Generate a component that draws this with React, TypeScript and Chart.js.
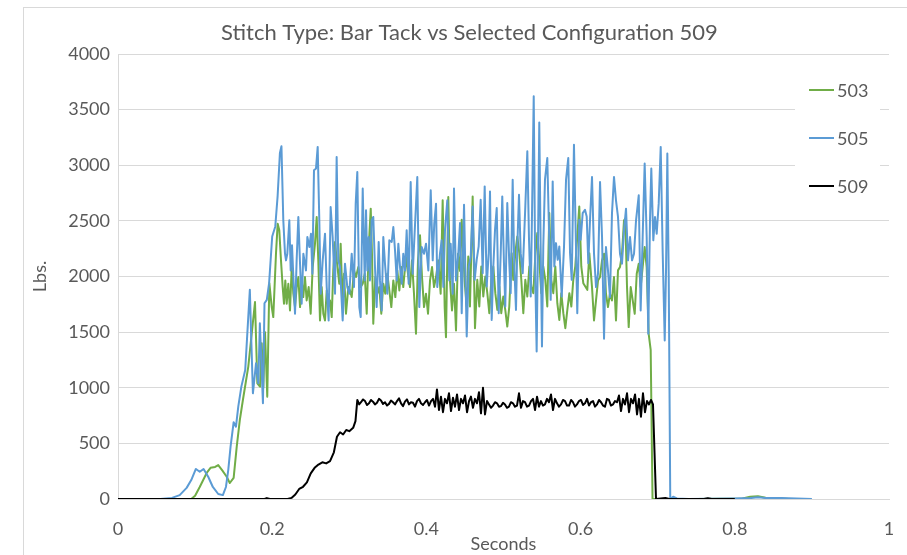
import React, { useEffect, useRef } from "react";
import { Chart, registerables } from "chart.js";

Chart.register(...registerables);

const chartTitle = "Stitch Type: Bar Tack vs Selected Configuration 509";
const xTitle = "Seconds";
const yTitle = "Lbs.";
const seriesNames = ["503", "505", "509"];
const seriesColors = ["#70ad47", "#5b9bd5", "#000000"];
const xTickValues = [0, 0.2, 0.4, 0.6, 0.8, 1];
const yTickValues = [0, 500, 1000, 1500, 2000, 2500, 3000, 3500, 4000];

// Series 503 (green): time in seconds, load in lbs
const t503 = [0, 0.095, 0.1, 0.106, 0.115, 0.12, 0.126, 0.13, 0.135, 0.141, 0.145, 0.15, 0.154, 0.158, 0.162, 0.169, 0.1777, 0.1807, 0.1842, 0.1864, 0.1885, 0.1907, 0.1936, 0.1963, 0.1994, 0.2014, 0.2049, 0.2071, 0.2092, 0.2114, 0.2136, 0.2153, 0.217, 0.2188, 0.2209, 0.2231, 0.2253, 0.2274, 0.2296, 0.2318, 0.2339, 0.2361, 0.2383, 0.2403, 0.2425, 0.2447, 0.2473, 0.2499, 0.2525, 0.2555, 0.2577, 0.2598, 0.262, 0.2642, 0.2663, 0.2685, 0.2707, 0.2728, 0.275, 0.2772, 0.2792, 0.2815, 0.2837, 0.287, 0.2888, 0.2914, 0.2931, 0.2957, 0.2987, 0.3009, 0.3031, 0.3061, 0.3087, 0.3117, 0.3148, 0.3174, 0.32, 0.3226, 0.3252, 0.3278, 0.3294, 0.3311, 0.3337, 0.3363, 0.3389, 0.3415, 0.3441, 0.3467, 0.3493, 0.3519, 0.3545, 0.3571, 0.3597, 0.3623, 0.3649, 0.3674, 0.37, 0.3735, 0.3761, 0.3787, 0.3813, 0.3839, 0.3865, 0.3891, 0.3917, 0.3943, 0.3969, 0.3995, 0.4021, 0.4047, 0.4073, 0.4099, 0.4125, 0.4154, 0.4185, 0.4211, 0.4237, 0.4254, 0.4284, 0.4306, 0.4332, 0.4358, 0.4384, 0.441, 0.4436, 0.4458, 0.4479, 0.4501, 0.4523, 0.4543, 0.4565, 0.46, 0.463, 0.466, 0.4686, 0.4712, 0.4738, 0.4764, 0.479, 0.4816, 0.4842, 0.4868, 0.4894, 0.492, 0.4946, 0.4971, 0.4997, 0.5023, 0.5049, 0.5075, 0.5106, 0.5127, 0.5153, 0.5179, 0.5205, 0.5231, 0.5257, 0.5283, 0.5309, 0.5335, 0.5361, 0.5387, 0.5412, 0.5438, 0.5464, 0.549, 0.5516, 0.5542, 0.5568, 0.5594, 0.562, 0.5646, 0.5672, 0.5698, 0.5724, 0.575, 0.5776, 0.5802, 0.5828, 0.5854, 0.588, 0.5905, 0.5931, 0.5957, 0.5983, 0.6009, 0.6035, 0.6061, 0.6087, 0.6113, 0.6148, 0.6174, 0.62, 0.6226, 0.6252, 0.6278, 0.6304, 0.6329, 0.6355, 0.6381, 0.6407, 0.6433, 0.6459, 0.6485, 0.6511, 0.6537, 0.6563, 0.658, 0.6602, 0.6624, 0.665, 0.6676, 0.6702, 0.6728, 0.6754, 0.6779, 0.6805, 0.6831, 0.6857, 0.6883, 0.6909, 0.6933, 0.75, 0.81, 0.82, 0.83, 0.84, 0.85, 0.87];
const v503 = [0, 0, 30, 108, 234, 280, 288, 305, 260, 200, 144, 190, 470, 710, 890, 1190, 1770, 1040, 1010, 1400, 1000, 1500, 920, 1940, 1725, 1635, 2205, 2475, 2415, 2145, 1905, 1755, 1965, 1755, 1935, 1695, 2085, 1845, 1725, 1905, 1995, 1725, 1965, 1815, 1995, 1785, 1905, 1665, 2085, 2295, 2535, 2145, 1605, 1905, 1665, 1605, 1875, 1725, 1785, 1635, 2055, 2310, 2145, 1935, 2295, 1725, 2025, 1665, 1905, 1875, 1815, 2055, 1995, 2085, 1905, 1935, 2025, 1665, 2265, 2610, 2205, 1575, 1995, 1845, 1905, 1665, 1935, 1845, 2025, 1875, 1725, 1965, 1815, 2055, 1875, 2085, 1905, 2175, 2025, 1905, 2145, 1845, 1485, 2145, 2370, 1995, 1725, 1845, 1665, 1965, 2085, 1905, 1995, 2145, 1845, 2685, 1725, 1455, 2715, 1965, 1695, 1935, 1515, 2205, 2050, 2510, 2180, 1910, 1730, 2180, 1730, 2720, 1535, 1970, 1730, 2090, 1820, 2000, 1850, 1670, 1970, 2090, 1850, 1700, 1910, 1670, 1820, 1700, 1550, 1730, 2210, 1970, 2210, 2360, 2210, 1970, 1670, 1970, 1820, 2090, 1910, 1850, 2180, 2390, 2150, 1850, 2090, 1970, 1730, 2570, 1970, 1850, 2090, 1760, 1610, 1850, 1670, 1535, 1700, 1850, 1730, 1970, 2090, 2360, 2630, 2090, 1940, 1910, 1880, 2210, 1905, 1605, 1785, 1965, 1995, 2145, 2205, 1845, 1725, 1845, 1785, 1995, 1605, 2055, 2085, 2205, 2505, 2520, 1905, 1545, 1905, 1785, 1665, 2025, 2115, 1905, 2085, 2265, 2085, 1485, 1340, 0, 0, 5, 20, 25, 12, 8, 0];

// Series 505 (blue)
const t505 = [0, 0.055, 0.07, 0.08, 0.089, 0.095, 0.101, 0.106, 0.111, 0.117, 0.123, 0.13, 0.136, 0.14, 0.143, 0.146, 0.15, 0.153, 0.156, 0.16, 0.165, 0.168, 0.171, 0.173, 0.175, 0.179, 0.182, 0.184, 0.188, 0.19, 0.193, 0.196, 0.2, 0.204, 0.207, 0.21, 0.212, 0.2144, 0.2166, 0.2179, 0.2196, 0.2222, 0.224, 0.2257, 0.2274, 0.2296, 0.2317, 0.2339, 0.2361, 0.2382, 0.2404, 0.2438, 0.2456, 0.2482, 0.2503, 0.2521, 0.2542, 0.2568, 0.259, 0.2611, 0.2629, 0.2655, 0.2685, 0.2707, 0.2732, 0.2758, 0.2784, 0.2815, 0.2836, 0.2857, 0.2879, 0.2914, 0.2944, 0.2974, 0.3, 0.3031, 0.3061, 0.3083, 0.3104, 0.313, 0.3148, 0.3174, 0.32, 0.3217, 0.3234, 0.3252, 0.3268, 0.329, 0.3311, 0.3333, 0.3355, 0.3381, 0.3398, 0.342, 0.3441, 0.3463, 0.3493, 0.3519, 0.355, 0.3571, 0.3593, 0.3615, 0.3636, 0.3658, 0.368, 0.37, 0.3722, 0.3744, 0.377, 0.3796, 0.3822, 0.3848, 0.3882, 0.3908, 0.3939, 0.3969, 0.3995, 0.4025, 0.4056, 0.4082, 0.4102, 0.4125, 0.4141, 0.4176, 0.4198, 0.422, 0.4241, 0.4271, 0.4297, 0.4315, 0.4341, 0.4358, 0.4384, 0.4414, 0.4436, 0.4458, 0.4488, 0.4523, 0.4549, 0.4575, 0.46, 0.4626, 0.4652, 0.4678, 0.4704, 0.473, 0.4756, 0.4782, 0.4808, 0.4825, 0.4847, 0.4868, 0.489, 0.4912, 0.4938, 0.4964, 0.4984, 0.5006, 0.5023, 0.5049, 0.5075, 0.5093, 0.5119, 0.514, 0.5162, 0.5179, 0.5201, 0.5223, 0.5249, 0.5266, 0.5283, 0.5309, 0.5331, 0.5353, 0.537, 0.5392, 0.5412, 0.543, 0.5447, 0.5464, 0.5482, 0.5499, 0.5516, 0.5538, 0.5568, 0.559, 0.5612, 0.5638, 0.5659, 0.5681, 0.5703, 0.5724, 0.5755, 0.5785, 0.5811, 0.584, 0.5863, 0.5885, 0.5914, 0.594, 0.5957, 0.5983, 0.6001, 0.6027, 0.6057, 0.6079, 0.61, 0.6122, 0.6148, 0.6174, 0.62, 0.6226, 0.6252, 0.6278, 0.6304, 0.6329, 0.6355, 0.6381, 0.6407, 0.6433, 0.6459, 0.6485, 0.6511, 0.6537, 0.6563, 0.6589, 0.6615, 0.6641, 0.6667, 0.6693, 0.6719, 0.6754, 0.6779, 0.6805, 0.6831, 0.6857, 0.6878, 0.69, 0.6917, 0.6943, 0.6965, 0.6987, 0.7013, 0.7039, 0.7065, 0.7091, 0.7108, 0.7125, 0.7143, 0.7163, 0.72, 0.725, 0.74, 0.8, 0.82, 0.83, 0.84, 0.86, 0.88, 0.9];
const v505 = [0, 0, 10, 35, 100, 170, 270, 245, 270, 200, 108, 45, 35, 108, 260, 470, 690, 650, 830, 1010, 1160, 1520, 1880, 1400, 950, 1220, 1040, 1580, 860, 1760, 1790, 1940, 2360, 2450, 2720, 3110, 3170, 2505, 2205, 2145, 2205, 2505, 2055, 2280, 2000, 1665, 2145, 2535, 2115, 1755, 2205, 2055, 2355, 2265, 2385, 2025, 2955, 2970, 3165, 2505, 1845, 2145, 2385, 1905, 1605, 2625, 2355, 1845, 3075, 2145, 2085, 1605, 2115, 1905, 1845, 2205, 1905, 2655, 2940, 1725, 1635, 2790, 1965, 2595, 2055, 2355, 1965, 2505, 2535, 2085, 1725, 2310, 1965, 1695, 2355, 2115, 1845, 2325, 2310, 2445, 2235, 1965, 2295, 2085, 1935, 2205, 2055, 2415, 1935, 2850, 2025, 2400, 2895, 1725, 2265, 2205, 2295, 2055, 2775, 2145, 2475, 2655, 1905, 2205, 2325, 1905, 2415, 2685, 1965, 2295, 1845, 2790, 1965, 2205, 2480, 1670, 2645, 1460, 2090, 2180, 2630, 1970, 2150, 2270, 2690, 2030, 2810, 1910, 2210, 2765, 1610, 2090, 2420, 2615, 1670, 2210, 2720, 2120, 1730, 2660, 2120, 1850, 2870, 2090, 1700, 2270, 2735, 2210, 2030, 2330, 2630, 3125, 2330, 1820, 2570, 3620, 2000, 1325, 2270, 3385, 2270, 1370, 2270, 2870, 3065, 2420, 1790, 2855, 2090, 2300, 2150, 2270, 1820, 2270, 2870, 3065, 2210, 1970, 3185, 2270, 1670, 2510, 2330, 2570, 2600, 2540, 2120, 2505, 2895, 2205, 1905, 2025, 2850, 2355, 1440, 2265, 2055, 1815, 2565, 2895, 2685, 2535, 2205, 2115, 2415, 2610, 2145, 2355, 2145, 2205, 2505, 2730, 1695, 2355, 3015, 2355, 1485, 2505, 2970, 2325, 2535, 2385, 2655, 3165, 2205, 1425, 2055, 3105, 2000, 0, 20, 5, 0, 4, 8, 15, 10, 8, 4, 0];

// Series 509 (black)
const t509 = [0, 0.19, 0.193, 0.197, 0.22, 0.225, 0.23, 0.235, 0.24, 0.245, 0.25, 0.255, 0.26, 0.265, 0.27, 0.275, 0.28, 0.284, 0.288, 0.292, 0.296, 0.3, 0.305, 0.308, 0.3104, 0.3128, 0.3152, 0.3178, 0.3204, 0.323, 0.3256, 0.3281, 0.3307, 0.3333, 0.3359, 0.3385, 0.3411, 0.3437, 0.3463, 0.3489, 0.3515, 0.3541, 0.3567, 0.3593, 0.3619, 0.3645, 0.3671, 0.3697, 0.3722, 0.3748, 0.3774, 0.38, 0.3826, 0.3852, 0.3878, 0.3904, 0.393, 0.3956, 0.3982, 0.4008, 0.4034, 0.406, 0.4086, 0.4112, 0.4137, 0.4163, 0.4189, 0.4215, 0.4241, 0.4267, 0.4293, 0.4319, 0.4345, 0.4371, 0.4397, 0.4423, 0.4449, 0.4475, 0.4501, 0.4527, 0.4553, 0.4578, 0.4604, 0.463, 0.4656, 0.4682, 0.4708, 0.4734, 0.476, 0.4786, 0.4812, 0.4838, 0.4864, 0.489, 0.4916, 0.4942, 0.4968, 0.4994, 0.5019, 0.5045, 0.5071, 0.5097, 0.5123, 0.5149, 0.5175, 0.5201, 0.5227, 0.5253, 0.5279, 0.5305, 0.5331, 0.5357, 0.5383, 0.5409, 0.5435, 0.546, 0.5486, 0.5512, 0.5538, 0.5564, 0.559, 0.5616, 0.5642, 0.5668, 0.5694, 0.572, 0.5746, 0.5772, 0.5798, 0.5824, 0.585, 0.5876, 0.5901, 0.5927, 0.5953, 0.5979, 0.6005, 0.6031, 0.6057, 0.6083, 0.6109, 0.6135, 0.6161, 0.6187, 0.6213, 0.6239, 0.6265, 0.6291, 0.6316, 0.6342, 0.6368, 0.6394, 0.642, 0.6446, 0.6472, 0.6498, 0.6524, 0.655, 0.6576, 0.6602, 0.6628, 0.6654, 0.668, 0.6706, 0.6732, 0.6757, 0.6783, 0.6809, 0.6835, 0.6861, 0.6887, 0.6913, 0.6939, 0.6978, 0.71, 0.715, 0.76, 0.765, 0.77, 0.8];
const v509 = [0, 0, 8, 0, 0, 10, 40, 90, 110, 150, 230, 280, 310, 330, 320, 340, 420, 560, 600, 580, 620, 610, 640, 700, 890, 850, 870, 895, 880, 845, 860, 890, 875, 850, 865, 900, 885, 855, 870, 840, 855, 885, 870, 850, 880, 905, 860, 835, 875, 895, 850, 870, 865, 830, 880, 900, 860, 845, 870, 890, 840, 880, 900, 830, 985, 800, 920, 780, 900, 860, 950, 790, 910, 830, 940, 800, 900, 860, 930, 780, 880, 920, 820, 900, 860, 960, 770, 1000, 760, 880, 850, 820, 840, 870, 860, 830, 835, 865, 850, 820, 830, 870, 860, 830, 840, 950, 820, 880, 870, 830, 840, 880, 900, 800, 920, 830, 880, 840, 850, 900, 870, 940, 800, 900, 860, 830, 850, 890, 880, 840, 840, 890, 870, 830, 850, 880, 890, 845, 860, 900, 840, 870, 880, 830, 850, 890, 870, 840, 830, 900, 890, 840, 850, 880, 870, 930, 790, 900, 850, 950, 780, 900, 860, 940, 760, 900, 740, 950, 780, 880, 850, 890, 850, 0, 10, 0, 0, 6, 0, 0];

const seriesTimes = [t503, t505, t509];
const seriesValues = [v503, v505, v509];

const TEXT_COLOR = "#595959";
const GRID_COLOR = "#d9d9d9";
const FONT = "Lato";

const overlayPlugin = {
  id: "overlay",
  beforeDatasetsDraw(chart: any) {
    const ctx = chart.ctx;
    const a = chart.chartArea;
    ctx.save();
    ctx.fillStyle = "#ffffff";
    ctx.fillRect(a.right - 94, a.top + 11, 85, 145);
    ctx.restore();
  },
  afterDraw(chart: any) {
    const ctx = chart.ctx;
    const a = chart.chartArea;
    ctx.save();
    ctx.fillStyle = TEXT_COLOR;
    ctx.font = `22px ${FONT}`;
    ctx.textAlign = "center";
    ctx.textBaseline = "middle";
    ctx.fillText(chartTitle, 469.5, 33);
    ctx.font = `18px ${FONT}`;
    ctx.textAlign = "left";
    chart.data.datasets.forEach((ds: any, i: number) => {
      const y = a.top + 36 + i * 48;
      ctx.strokeStyle = ds.borderColor;
      ctx.lineWidth = 2;
      ctx.beginPath();
      ctx.moveTo(a.right - 80, y);
      ctx.lineTo(a.right - 55, y);
      ctx.stroke();
      ctx.fillStyle = TEXT_COLOR;
      ctx.fillText(ds.label, a.right - 52, y + 1);
    });
    ctx.restore();
  },
};

export default function App() {
  const canvasRef = useRef<HTMLCanvasElement | null>(null);

  useEffect(() => {
    const canvas = canvasRef.current;
    if (!canvas) return;
    const datasets = seriesNames.map((name, i) => ({
      label: name,
      data: seriesTimes[i].map((t, j) => ({ x: t, y: seriesValues[i][j] })),
      borderColor: seriesColors[i],
      backgroundColor: seriesColors[i],
      borderWidth: 2,
      pointRadius: 0,
      pointHoverRadius: 0,
      tension: 0,
      fill: false,
      borderJoinStyle: "round" as const,
      order: 2 - i,
    }));
    const chart = new Chart(canvas, {
      type: "line",
      data: { datasets },
      options: {
        responsive: false,
        animation: false,
        devicePixelRatio: 1,
        events: [],
        layout: { padding: { top: 54, right: 18, bottom: 0, left: 0 } },
        plugins: {
          legend: { display: false },
          title: { display: false },
          tooltip: { enabled: false },
        },
        scales: {
          x: {
            type: "linear",
            min: 0,
            max: 1,
            afterFit: (s: any) => {
              s.height = 56;
            },
            afterBuildTicks: (s: any) => {
              s.ticks = xTickValues.map((v) => ({ value: v }));
            },
            ticks: {
              padding: 11,
              color: TEXT_COLOR,
              font: { family: FONT, size: 18 },
              maxRotation: 0,
              autoSkip: false,
              callback: (v: any) => String(Math.round(Number(v) * 10) / 10),
            },
            grid: { display: false },
            border: { display: true, color: GRID_COLOR, width: 1 },
            title: {
              display: true,
              text: xTitle,
              color: TEXT_COLOR,
              font: { family: FONT, size: 18 },
              padding: { top: 0, bottom: 0 },
            },
          },
          y: {
            type: "linear",
            min: 0,
            max: 4000,
            afterFit: (s: any) => {
              s.width = 118;
            },
            afterBuildTicks: (s: any) => {
              s.ticks = yTickValues.map((v) => ({ value: v }));
            },
            ticks: {
              padding: 8,
              color: TEXT_COLOR,
              font: { family: FONT, size: 18 },
              callback: (v: any) => String(Math.round(Number(v))),
            },
            grid: { color: GRID_COLOR, drawTicks: false, lineWidth: 1 },
            border: { display: true, color: GRID_COLOR, width: 1 },
            title: {
              display: true,
              text: yTitle,
              color: TEXT_COLOR,
              font: { family: FONT, size: 18 },
              padding: { top: 29, bottom: 0 },
            },
          },
        },
      },
      plugins: [overlayPlugin],
    });
    return () => chart.destroy();
  }, []);

  return (
    <div
      style={{
        position: "fixed",
        left: 0,
        top: 0,
        width: 907,
        height: 555,
        overflow: "hidden",
        background: "#ffffff",
      }}
    >
      <canvas ref={canvasRef} width={907} height={555} style={{ display: "block" }} />
      <div
        style={{
          position: "absolute",
          left: 23,
          top: 7,
          width: 1000,
          height: 1000,
          border: `1px solid ${GRID_COLOR}`,
          pointerEvents: "none",
        }}
      />
    </div>
  );
}
